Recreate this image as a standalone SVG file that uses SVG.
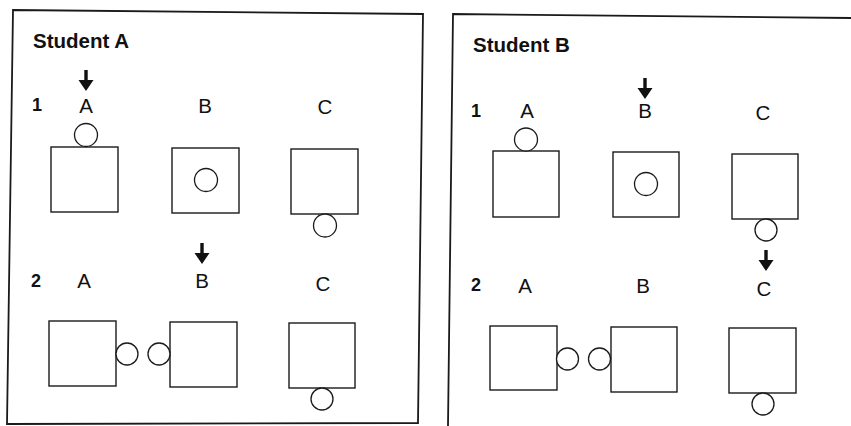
<svg xmlns="http://www.w3.org/2000/svg" xmlns:xlink="http://www.w3.org/1999/xlink" width="851" height="426" viewBox="0 0 851 426">
<style>
  .frame{fill:none;stroke:#1a1a1a;stroke-width:1.8}
  .box{fill:#fff;stroke:#1a1a1a;stroke-width:1.4}
  .dot{fill:#fff;stroke:#1a1a1a;stroke-width:1.3}
  .title{font-family:"Liberation Sans",Arial,sans-serif;font-weight:bold;font-size:20.5px;fill:#111}
  .num{font-family:"Liberation Sans",Arial,sans-serif;font-weight:bold;font-size:18px;fill:#111}
  .lbl{font-family:"Liberation Sans",Arial,sans-serif;font-size:20.5px;fill:#111;text-anchor:middle}
  .arr{fill:#111}
</style>
<defs>
  <path id="arr" class="arr" d="M-1.7,0 H1.7 V10 H7.5 L0,21 L-7.5,10 H-1.7 Z"/>
</defs>
<rect width="851" height="426" fill="#fff"/>

<g id="panelA">
  <polygon class="frame" points="13,10 423,14 418,423 7,424"/>
  <text class="title" x="33" y="48">Student A</text>
  <text class="num" x="32" y="111">1</text>
  <text class="num" x="31" y="287">2</text>
  <g id="A1-A"><text class="lbl" x="86" y="113">A</text><rect class="box" x="51" y="147" width="67" height="65"/><circle class="dot" cx="86" cy="135" r="11.5"/></g>
  <g id="A1-B"><text class="lbl" x="205" y="113">B</text><rect class="box" x="172" y="148" width="67" height="65"/><circle class="dot" cx="206" cy="180" r="11.5"/></g>
  <g id="A1-C"><text class="lbl" x="325" y="114">C</text><rect class="box" x="291" y="149" width="67" height="65"/><circle class="dot" cx="325" cy="225.5" r="11.5"/></g>
  <g id="A2-A"><text class="lbl" x="84" y="288">A</text><rect class="box" x="49" y="321" width="67" height="65"/><circle class="dot" cx="127" cy="354" r="11"/></g>
  <g id="A2-B"><text class="lbl" x="202" y="288">B</text><rect class="box" x="170" y="322" width="67" height="65"/><circle class="dot" cx="159" cy="354" r="11"/></g>
  <g id="A2-C"><text class="lbl" x="323" y="291">C</text><rect class="box" x="289" y="323" width="66" height="65"/><circle class="dot" cx="322" cy="399" r="11"/></g>
</g>

<g id="panelB">
  <polyline class="frame" points="851,18 453,14 448,426"/>
  <text class="title" x="473" y="52">Student B</text>
  <text class="num" x="471" y="117">1</text>
  <text class="num" x="471" y="291">2</text>
  <g id="B1-A"><text class="lbl" x="527" y="118">A</text><rect class="box" x="493" y="151" width="66" height="66"/><circle class="dot" cx="526" cy="139.5" r="11.5"/></g>
  <g id="B1-B"><text class="lbl" x="645" y="118">B</text><rect class="box" x="613" y="152" width="66" height="65"/><circle class="dot" cx="646" cy="184" r="11.5"/></g>
  <g id="B1-C"><text class="lbl" x="763" y="120">C</text><rect class="box" x="732" y="154" width="66" height="65"/><circle class="dot" cx="766" cy="230" r="11"/></g>
  <g id="B2-A"><text class="lbl" x="525" y="293">A</text><rect class="box" x="490" y="326" width="67" height="64"/><circle class="dot" cx="567.5" cy="359" r="11"/></g>
  <g id="B2-B"><text class="lbl" x="643" y="293">B</text><rect class="box" x="611" y="327" width="66" height="65"/><circle class="dot" cx="599.5" cy="359" r="11"/></g>
  <g id="B2-C"><text class="lbl" x="764" y="296">C</text><rect class="box" x="729" y="328" width="67" height="65"/><circle class="dot" cx="763" cy="404" r="11"/></g>
</g>

<g id="connectors">
  <use xlink:href="#arr" x="86" y="70"/>
  <use xlink:href="#arr" x="202" y="243"/>
  <use xlink:href="#arr" x="645" y="78"/>
  <use xlink:href="#arr" x="766" y="250"/>
</g>
</svg>
